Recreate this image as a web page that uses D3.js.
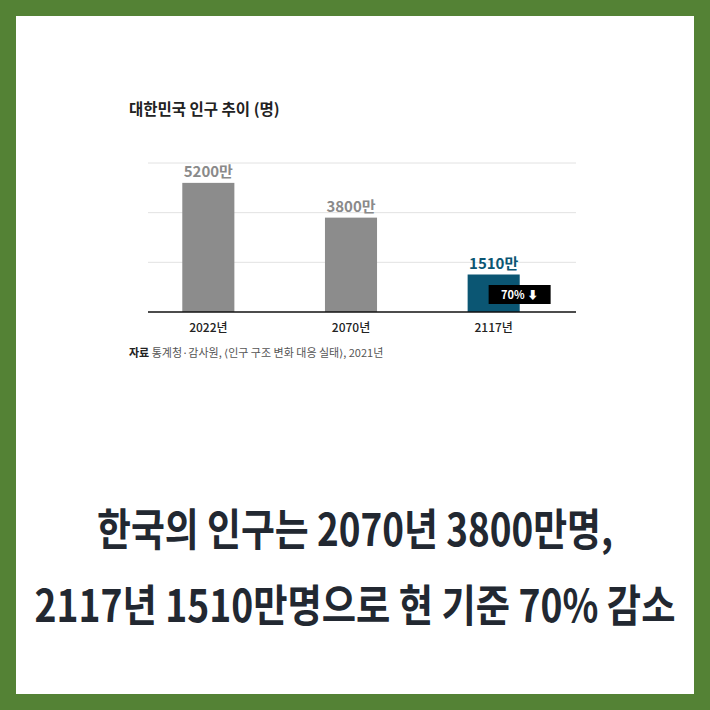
<!DOCTYPE html>
<html>
<head>
<meta charset="utf-8">
<script src="https://cdn.jsdelivr.net/npm/d3@7"></script>
<style>
  body { margin: 0; background: #fff; }
  text { font-family: "Noto Sans CJK KR", "Noto Sans", sans-serif; }
</style>
</head>
<body>
<div id="chart"></div>
<script>
// data
const years = ["2022년", "2070년", "2117년"];
const population = [5200, 3800, 1510];   // 만 명
const valueLabels = ["5200만", "3800만", "1510만"];
const gridTicks = [2000, 4000, 6000];
const headline = ["한국의 인구는 2070년 3800만명,", "2117년 1510만명으로 현 기준 70% 감소"];

const W = 710, H = 710;

const svg = d3.select("#chart")
    .append("svg")
    .attr("width", W)
    .attr("height", H);

// green frame
svg.append("rect").attr("width", W).attr("height", H).attr("fill", "#548235");
svg.append("rect").attr("x", 16).attr("y", 16).attr("width", 678).attr("height", 678).attr("fill", "#fff");

// title
svg.append("text")
    .attr("x", 129).attr("y", 115)
    .attr("font-size", 15.5).attr("font-weight", 700).attr("fill", "#222")
    .text("대한민국 인구 추이 (명)");

// scales
const x = d3.scaleBand()
    .domain(years)
    .range([137, 565])
    .paddingInner(0.635)
    .paddingOuter(0.3175);

const y = d3.scaleLinear()
    .domain([0, 6000])
    .range([312, 163]);

// grid lines
svg.append("g")
    .selectAll("line")
    .data(gridTicks)
    .join("line")
    .attr("x1", 148).attr("x2", 576)
    .attr("y1", d => y(d)).attr("y2", d => y(d))
    .attr("stroke", "#e2e2e2").attr("stroke-width", 1);

// bars
const colors = ["#8c8c8c", "#8c8c8c", "#0b5673"];
svg.append("g")
    .selectAll("rect")
    .data(population)
    .join("rect")
    .attr("x", (d, i) => x(years[i]))
    .attr("y", d => y(d))
    .attr("width", x.bandwidth())
    .attr("height", d => y(0) - y(d))
    .attr("fill", (d, i) => colors[i]);

// value labels
const labelColors = ["#8a8a8a", "#8a8a8a", "#0b5673"];
svg.append("g")
    .selectAll("text")
    .data(population)
    .join("text")
    .attr("x", (d, i) => x(years[i]) + x.bandwidth() / 2)
    .attr("y", d => y(d) - 6)
    .attr("text-anchor", "middle")
    .attr("font-size", 15).attr("font-weight", 700)
    .attr("fill", (d, i) => labelColors[i])
    .text((d, i) => valueLabels[i]);

// 70% badge
const bx = x(years[2]) + 21;
svg.append("rect")
    .attr("x", bx).attr("y", 285)
    .attr("width", 62).attr("height", 19)
    .attr("fill", "#000");
svg.append("text")
    .attr("x", bx + 31).attr("y", 299)
    .attr("text-anchor", "middle")
    .attr("font-size", 11).attr("font-weight", 700).attr("fill", "#fff")
    .text("70% ⬇");

// x axis
const xAxis = svg.append("g")
    .attr("transform", `translate(0,${y(0)})`)
    .call(d3.axisBottom(x).tickSize(0).tickPadding(11));
xAxis.select(".domain").remove();
xAxis.append("line")
    .attr("x1", 148).attr("x2", 576)
    .attr("stroke", "#111").attr("stroke-width", 1.5);
xAxis.selectAll(".tick text")
    .attr("font-family", "Noto Sans CJK KR")
    .attr("font-size", 12).attr("font-weight", 500).attr("fill", "#222");

// source
const src = svg.append("text")
    .attr("x", 129).attr("y", 357)
    .attr("font-size", 11).attr("fill", "#555");
src.append("tspan").attr("font-weight", 700).attr("fill", "#222").text("자료 ");
src.append("tspan").text("통계청·감사원, ⟨인구 구조 변화 대응 실태⟩, 2021년");

// headline - condensed by horizontal scaling to the reference widths
const targetWidths = [516, 641];
svg.append("g")
    .selectAll("text")
    .data(headline)
    .join("text")
    .attr("text-anchor", "middle")
    .attr("font-size", 44).attr("font-weight", 700).attr("fill", "#222831")
    .text(d => d)
    .attr("transform", function(d, i) {
        const natural = this.getComputedTextLength();
        const k = targetWidths[i] / natural;
        return `translate(${W / 2},${546 + i * 76}) scale(${k},1)`;
    });
</script>
</body>
</html>
